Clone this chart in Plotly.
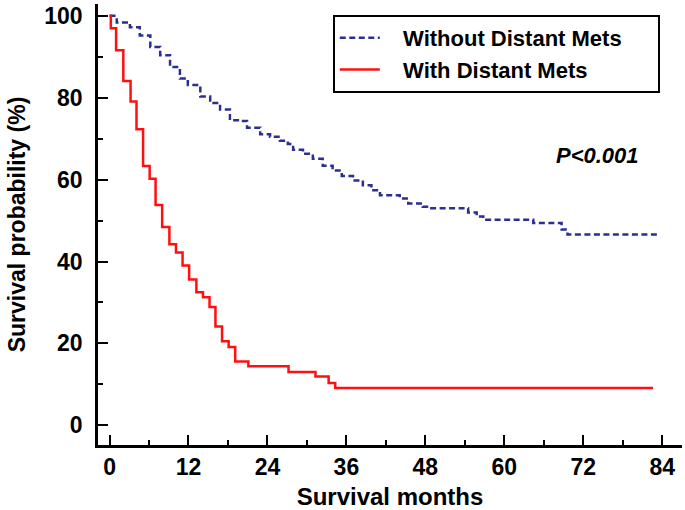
import plotly.graph_objects as go

# Kaplan-Meier step data (months, survival %)
without_t = [0, 1.1, 3.1, 4.6, 6.2, 7.7, 9.2, 10.7, 11.9, 13.8, 15.3, 16.8, 18.3, 19.8, 20.9,
             22.9, 24.4, 25.9, 27.1, 27.9, 29.4, 30.9, 32.4, 33.9, 35.3, 37.0, 38.5, 39.8, 41.1,
             44.1, 45.4, 47.6, 48.7, 54.5, 55.8, 56.8, 64.4, 68.7, 69.6, 83.7]
without_v = [100, 98.4, 97.2, 95.2, 92.4, 90.4, 87.5, 84.7, 83.1, 80.3, 78.7, 77.1, 74.5, 74.3, 72.7,
             71.1, 70.5, 69.5, 68.7, 67.3, 66.3, 65.1, 63.4, 62.2, 60.9, 59.8, 58.6, 57.4, 56.2,
             55.4, 54.2, 53.4, 53.0, 52.0, 51.0, 50.2, 49.4, 47.8, 46.6, 46.6]

with_t = [0, 0.2, 1.0, 2.1, 3.2, 4.1, 5.1, 6.1, 7.0, 8.0, 9.1, 10.1, 11.1, 12.1, 13.2, 14.2,
          15.2, 16.1, 17.1, 18.1, 19.1, 21.1, 27.2, 31.3, 33.3, 34.3, 82.6]
with_v = [100, 97.0, 91.6, 84.1, 79.1, 72.3, 63.3, 60.2, 53.8, 48.4, 44.2, 42.2, 39.0, 35.6, 32.5, 31.3,
          28.9, 24.1, 20.5, 19.1, 15.6, 14.4, 13.0, 11.9, 10.3, 9.1, 9.1]

x_ticks = [0, 12, 24, 36, 48, 60, 72, 84]
y_ticks = [0, 20, 40, 60, 80, 100]

series_names = ["Without Distant Mets", "With Distant Mets"]

FONT = "Liberation Sans, Arial, sans-serif"
NB = "\u00a0"


def legend_label(name):
    return NB * 3 + name + NB * 5


fig = go.Figure()
fig.add_trace(go.Scatter(
    x=without_t, y=without_v, mode="lines", line_shape="hv",
    name=legend_label(series_names[0]),
    line=dict(color="#2B2F8F", width=2.5, dash="6px,3.5px"),
))
fig.add_trace(go.Scatter(
    x=with_t, y=with_v, mode="lines", line_shape="hv",
    name=legend_label(series_names[1]),
    line=dict(color="#FF1010", width=2.5),
))

fig.add_annotation(
    x=74.2, y=65.8, xref="x", yref="y",
    text="<b><i>P&lt;0.001</i></b>", showarrow=False,
    font=dict(family=FONT, size=22, color="black"),
)

axis_common = dict(
    showgrid=False, zeroline=False, showline=True, linecolor="black", linewidth=2.5,
    ticks="inside", tickcolor="black", tickwidth=2, ticklen=10,
    tickfont=dict(family=FONT, size=23, color="black", weight="bold"),
    mirror=False,
)

fig.update_layout(
    width=685, height=510,
    margin=dict(l=98, r=3, t=3, b=60),
    plot_bgcolor="white", paper_bgcolor="white",
    xaxis=dict(
        range=[-1.75, 87.0], tickvals=x_ticks, ticktext=[str(v) for v in x_ticks],
        minor=dict(dtick=6, tick0=0, ticks="inside", ticklen=5, tickwidth=1.5, tickcolor="black"),
        ticklabelstandoff=0,
        title=dict(text="<b>Survival months</b>", font=dict(family=FONT, size=24, color="black"), standoff=10),
        **axis_common,
    ),
    yaxis=dict(
        range=[-4.82, 102.9], tickvals=y_ticks, ticktext=[str(v) for v in y_ticks],
        minor=dict(dtick=10, tick0=0, ticks="inside", ticklen=5, tickwidth=1.5, tickcolor="black"),
        ticklabelstandoff=8,
        title=dict(text="<b>Survival probability (%)</b>", font=dict(family=FONT, size=23, color="black"), standoff=13),
        **axis_common,
    ),
    legend=dict(
        x=0.402, y=0.975, xanchor="left", yanchor="top",
        bgcolor="white", bordercolor="black", borderwidth=2,
        font=dict(family=FONT, size=22, color="black", weight="bold"),
        itemwidth=40, tracegroupgap=0,
    ),
    showlegend=True,
)

fig.write_html("out.html")
